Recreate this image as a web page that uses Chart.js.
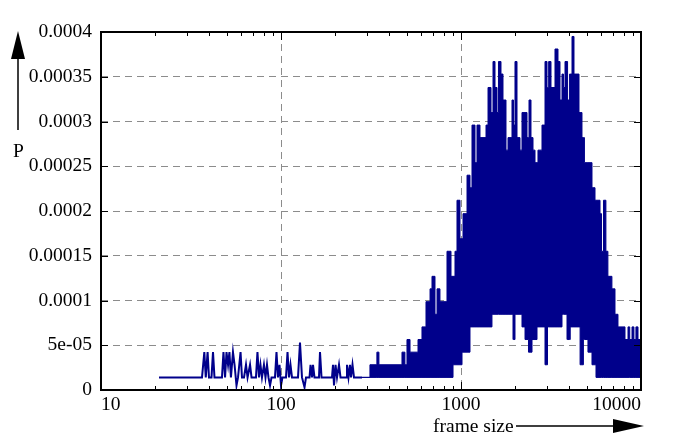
<!DOCTYPE html>
<html>
<head>
<meta charset="utf-8">
<script src="https://cdn.jsdelivr.net/npm/chart.js@4/dist/chart.umd.min.js"></script>
<style>
  body { margin: 0; background: #fff; }
</style>
</head>
<body>
<canvas id="chart" width="692" height="445"></canvas>
<script>
// frame sizes below ~280: single sparse line
var sparseX = [21.0, 36.4, 37.5, 38.2, 39.1, 39.8, 41.1, 41.9, 42.7, 47.0,
    47.9, 48.9, 49.8, 50.8, 51.7, 52.7, 54.1, 55.2, 56.6, 57.7,
    59.6, 60.7, 62.3, 63.9, 65.2, 67.3, 68.6, 72.6, 74.0, 75.5,
    76.9, 78.4, 80.4, 82.0, 83.6, 85.2, 86.9, 88.6, 92.6, 94.4,
    96.2, 98.1, 100, 101.9, 106.6, 108.7, 110.8, 112.9, 115.1, 124.3,
    127.5, 130.8, 135.1, 137.7, 144.0, 145.9, 148.7, 150.6, 153.5, 162.6,
    164.7, 167.9, 192.0, 194.5, 197.0, 200.9, 204.7, 210.0, 214.1, 229.7,
    232.6, 237.1, 241.7, 244.8, 249.6, 254.4, 282];
var sparseP = [1.41e-5, 1.41e-5, 4.23e-5, 1.41e-5, 4.23e-5, 1.41e-5, 1.41e-5, 4.23e-5, 1.41e-5, 1.41e-5,
    4.23e-5, 1.41e-5, 4.23e-5, 2.82e-5, 4.23e-5, 1.41e-5, 4.23e-5, 2.82e-5, 0.5e-5, 1.41e-5,
    4.23e-5, 1.41e-5, 1.41e-5, 2.82e-5, 1.41e-5, 2.82e-5, 1.41e-5, 1.41e-5, 4.23e-5, 1.41e-5,
    2.82e-5, 1.41e-5, 2.82e-5, 1.41e-5, 2.82e-5, 1.41e-5, 0.5e-5, 1.41e-5, 1.41e-5, 4.23e-5,
    1.41e-5, 2.82e-5, 0.5e-5, 1.41e-5, 1.41e-5, 4.23e-5, 1.41e-5, 2.82e-5, 1.41e-5, 1.41e-5,
    5.3e-5, 1.41e-5, 0.3e-5, 1.41e-5, 1.41e-5, 2.82e-5, 1.41e-5, 2.82e-5, 1.41e-5, 1.41e-5,
    4.23e-5, 1.41e-5, 1.41e-5, 2.82e-5, 0.5e-5, 2.82e-5, 1.41e-5, 2.82e-5, 1.41e-5, 1.41e-5,
    2.82e-5, 1.41e-5, 2.82e-5, 1.41e-5, 2.82e-5, 1.41e-5, 1.41e-5];

// dense part: the line swings so fast it becomes a band, kept as upper/lower envelope
var bandX = [282, 312, 341, 350, 470, 488, 501, 521, 577, 607,
    639, 673, 690, 717, 736, 764, 836, 880, 903, 926,
    950, 987, 1013, 1026, 1080, 1122, 1151, 1196, 1227, 1275,
    1377, 1413, 1468, 1486, 1506, 1545, 1585, 1615, 1668, 1711,
    1778, 1825, 1920, 1945, 1958, 1995, 2047, 2127, 2182, 2268,
    2326, 2371, 2387, 2448, 2480, 2512, 2577, 2644, 2677, 2818,
    2929, 3005, 3024, 3069, 3162, 3328, 3458, 3548, 3640, 3711,
    3783, 3881, 3909, 4010, 4044, 4137, 4244, 4524, 4588, 4700,
    4786, 4850, 5074, 5342, 5552, 5623, 5920, 6035, 6191, 6383,
    6548, 6893, 7170, 7449, 8149, 8468, 8658, 8913, 9135, 9372, 9624, 10000];
var bandHigh = [1.41e-5, 2.82e-5, 4.23e-5, 2.82e-5, 4.23e-5, 2.82e-5, 5.64e-5, 4.23e-5, 5.64e-5, 7.05e-5,
    9.87e-5, 1.13e-4, 1.27e-4, 8.46e-5, 1.13e-4, 9.87e-5, 1.55e-4, 1.27e-4, 1.27e-4, 1.55e-4,
    2.12e-4, 1.69e-4, 1.69e-4, 1.97e-4, 2.40e-4, 2.26e-4, 2.96e-4, 2.54e-4, 2.96e-4, 2.82e-4,
    2.96e-4, 3.38e-4, 3.10e-4, 3.10e-4, 3.67e-4, 3.38e-4, 3.10e-4, 3.67e-4, 3.53e-4, 3.24e-4,
    2.68e-4, 2.82e-4, 3.24e-4, 3.24e-4, 2.96e-4, 3.67e-4, 2.82e-4, 2.68e-4, 3.10e-4, 3.10e-4,
    2.82e-4, 2.82e-4, 3.24e-4, 2.82e-4, 2.82e-4, 2.68e-4, 2.54e-4, 2.54e-4, 2.68e-4, 2.96e-4,
    3.67e-4, 3.38e-4, 3.38e-4, 3.67e-4, 3.38e-4, 3.81e-4, 3.67e-4, 3.24e-4, 3.53e-4, 3.38e-4,
    3.67e-4, 3.67e-4, 3.24e-4, 3.53e-4, 3.53e-4, 3.95e-4, 3.53e-4, 3.10e-4, 3.10e-4, 2.82e-4,
    2.82e-4, 2.54e-4, 2.54e-4, 2.26e-4, 2.12e-4, 2.12e-4, 1.97e-4, 1.55e-4, 2.12e-4, 1.55e-4,
    1.27e-4, 1.13e-4, 8.46e-5, 7.05e-5, 5.64e-5, 7.05e-5, 5.64e-5, 7.05e-5, 5.64e-5, 7.05e-5, 5.64e-5, 5.64e-5];
var bandLow = [1.41e-5, 1.41e-5, 1.41e-5, 1.41e-5, 1.41e-5, 1.41e-5, 1.41e-5, 1.41e-5, 1.41e-5, 1.41e-5,
    1.41e-5, 1.41e-5, 1.41e-5, 1.41e-5, 1.41e-5, 1.41e-5, 1.41e-5, 1.41e-5, 2.82e-5, 2.82e-5,
    2.82e-5, 2.82e-5, 4.23e-5, 4.23e-5, 4.23e-5, 7.05e-5, 7.05e-5, 7.05e-5, 7.05e-5, 7.05e-5,
    7.05e-5, 7.05e-5, 7.05e-5, 8.46e-5, 8.46e-5, 8.46e-5, 8.46e-5, 8.46e-5, 8.46e-5, 8.46e-5,
    8.46e-5, 8.46e-5, 8.46e-5, 5.64e-5, 5.64e-5, 8.46e-5, 8.46e-5, 8.46e-5, 7.05e-5, 5.64e-5,
    5.64e-5, 4.23e-5, 4.23e-5, 4.23e-5, 5.64e-5, 5.64e-5, 5.64e-5, 7.05e-5, 7.05e-5, 7.05e-5,
    2.82e-5, 2.82e-5, 7.05e-5, 7.05e-5, 7.05e-5, 7.05e-5, 7.05e-5, 7.05e-5, 8.46e-5, 8.46e-5,
    8.46e-5, 5.64e-5, 5.64e-5, 5.64e-5, 7.05e-5, 7.05e-5, 7.05e-5, 7.05e-5, 2.82e-5, 2.82e-5,
    5.64e-5, 5.64e-5, 4.23e-5, 2.82e-5, 2.82e-5, 1.41e-5, 1.41e-5, 1.41e-5, 1.41e-5, 1.41e-5,
    1.41e-5, 1.41e-5, 1.41e-5, 1.41e-5, 1.41e-5, 1.41e-5, 1.41e-5, 1.41e-5, 1.41e-5, 1.41e-5, 1.41e-5, 1.41e-5];

var xTicks = [10, 20, 30, 40, 50, 60, 70, 80, 90,
    100, 200, 300, 400, 500, 600, 700, 800, 900,
    1000, 2000, 3000, 4000, 5000, 6000, 7000, 8000, 9000, 10000];
var xLabels = { 10: '10', 100: '100', 1000: '1000', 10000: '10000' };
var yLabels = ['0', '5e-05', '0.0001', '0.00015', '0.0002', '0.00025', '0.0003', '0.00035', '0.0004'];

var navy = '#00008b';
var serif = '"Liberation Serif", "DejaVu Serif", serif';

function points(xs, ys) {
    return xs.map(function (v, i) { return { x: v, y: ys[i] }; });
}

var framePlugin = {
    id: 'frame',
    afterDraw: function (chart) {
        var ctx = chart.ctx, a = chart.chartArea;
        var xs = chart.scales.x, ys = chart.scales.y;
        ctx.save();
        ctx.strokeStyle = '#000';
        ctx.lineWidth = 1;
        ctx.beginPath();
        ys.ticks.forEach(function (t) {
            var py = Math.round(ys.getPixelForValue(t.value)) + 0.5;
            ctx.moveTo(a.left, py); ctx.lineTo(a.left + 7, py);
            ctx.moveTo(a.right, py); ctx.lineTo(a.right - 7, py);
        });
        xs.ticks.forEach(function (t) {
            var px = Math.round(xs.getPixelForValue(t.value)) + 0.5;
            var len = xLabels[t.value] ? 8 : 4;
            ctx.moveTo(px, a.bottom); ctx.lineTo(px, a.bottom - len);
            ctx.moveTo(px, a.top); ctx.lineTo(px, a.top + len);
        });
        ctx.stroke();

        ctx.lineWidth = 2;
        ctx.strokeRect(a.left, a.top, a.right - a.left, a.bottom - a.top);

        // axis names with arrows
        ctx.fillStyle = '#000';
        ctx.font = '19.5px ' + serif;
        ctx.textBaseline = 'alphabetic';
        ctx.textAlign = 'left';
        ctx.fillText('P', 13, 157);
        ctx.fillText('frame size', 433, 432);

        ctx.lineWidth = 1.5;
        ctx.beginPath();
        ctx.moveTo(18, 130); ctx.lineTo(18, 56);
        ctx.moveTo(516, 426); ctx.lineTo(616, 426);
        ctx.stroke();
        ctx.beginPath();
        ctx.moveTo(11, 59); ctx.lineTo(25, 59); ctx.lineTo(18, 31); ctx.closePath();
        ctx.moveTo(613, 419); ctx.lineTo(613, 433); ctx.lineTo(644, 426); ctx.closePath();
        ctx.fill();
        ctx.restore();
    }
};

Chart.defaults.font.family = serif;
Chart.defaults.font.size = 19.5;
Chart.defaults.color = '#000';

new Chart(document.getElementById('chart').getContext('2d'), {
    type: 'line',
    data: {
        datasets: [{
                label: 'high',
                data: points(bandX, bandHigh),
                borderColor: navy,
                backgroundColor: navy,
                borderWidth: 1,
                stepped: true,
                fill: '+1',
                pointRadius: 0
            },
            {
                label: 'low',
                data: points(bandX, bandLow),
                borderColor: navy,
                borderWidth: 1,
                stepped: true,
                fill: false,
                pointRadius: 0
            },
            {
                label: 'P',
                data: points(sparseX, sparseP),
                borderColor: navy,
                borderWidth: 2,
                tension: 0,
                fill: false,
                pointRadius: 0
            }
        ]
    },
    options: {
        responsive: false,
        animation: false,
        events: [],
        layout: { padding: { top: 32, right: 51, left: 0, bottom: 0 } },
        plugins: { legend: { display: false }, tooltip: { enabled: false } },
        scales: {
            x: {
                type: 'logarithmic',
                min: 10,
                max: 10000,
                afterBuildTicks: function (scale) {
                    scale.ticks = xTicks.map(function (v) { return { value: v }; });
                },
                afterFit: function (scale) { scale.height = 55; },
                ticks: {
                    autoSkip: false,
                    maxRotation: 0,
                    align: 'inner',
                    padding: 3,
                    callback: function (v) { return xLabels[v] || ''; }
                },
                grid: {
                    drawTicks: false,
                    lineWidth: 1,
                    color: function (c) {
                        var v = c.tick && c.tick.value;
                        return (v === 100 || v === 1000) ? '#8c8c8c' : 'rgba(0,0,0,0)';
                    }
                },
                border: { display: false, dash: [7, 5] }
            },
            y: {
                type: 'linear',
                min: 0,
                max: 0.0004,
                afterFit: function (scale) { scale.width = 101; },
                ticks: {
                    stepSize: 0.00005,
                    padding: 9,
                    callback: function (v) { return yLabels[Math.round(v / 0.00005)]; }
                },
                grid: { drawTicks: false, lineWidth: 1, color: '#8c8c8c' },
                border: { display: false, dash: [7, 5] }
            }
        }
    },
    plugins: [framePlugin]
});
</script>
</body>
</html>
